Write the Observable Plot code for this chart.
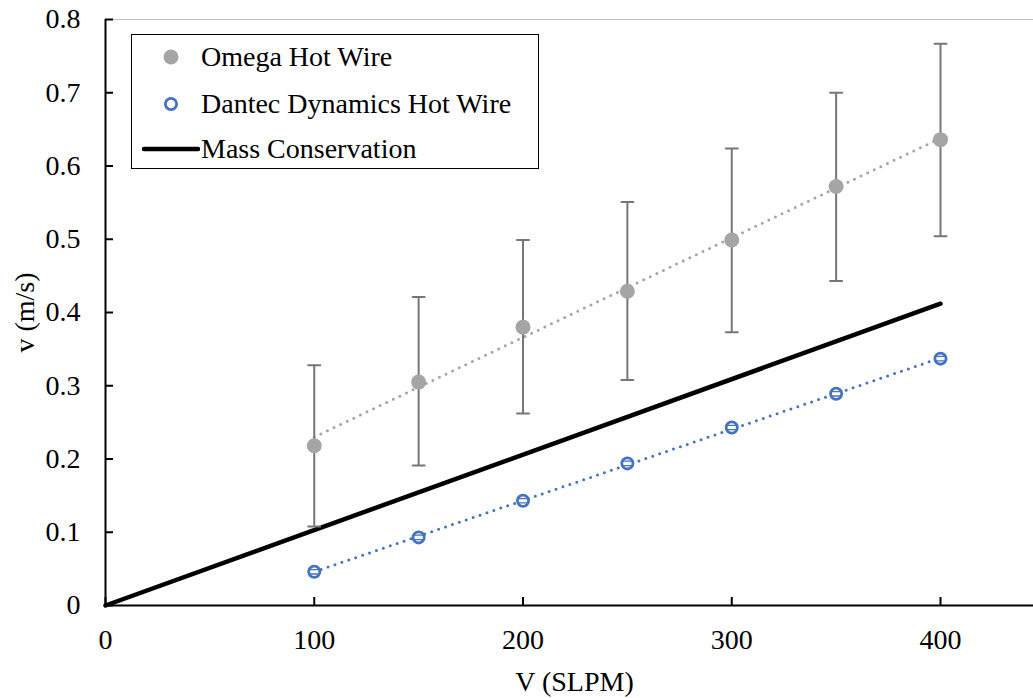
<!DOCTYPE html>
<html>
<head>
<meta charset="utf-8">
<script src="https://cdn.jsdelivr.net/npm/d3@7"></script>
<script src="https://cdn.jsdelivr.net/npm/@observablehq/plot@0.6"></script>
<style>
  html, body { margin: 0; padding: 0; background: #fff; }
  #wrap { position: relative; width: 1033px; height: 698px; font-family: "Liberation Serif", Tinos, "Times New Roman", Times, "Nimbus Roman", "DejaVu Serif", "Noto Serif", serif; }
  #legend { position: absolute; left: 131px; top: 34px; width: 406px; height: 133px; border: 1.5px solid #000; background: #fff; }
  .item { position: absolute; left: 0; height: 40px; width: 406px; }
  .item svg { position: absolute; left: 8px; top: 0; }
  .item span { position: absolute; left: 69px; top: 0; line-height: 40px; font-size: 28px; color: #000; white-space: nowrap; }
  svg text { font-family: "Liberation Serif", Tinos, "Times New Roman", Times, "Nimbus Roman", "DejaVu Serif", "Noto Serif", serif; }
</style>
</head>
<body>
<div id="wrap"><div id="legend"></div></div>
<script>
// ---- data ----
const flow = [100, 150, 200, 250, 300, 350, 400];              // V (SLPM)
const omegaV = [0.218, 0.305, 0.380, 0.429, 0.499, 0.572, 0.636];
const omegaLo = [0.108, 0.191, 0.262, 0.308, 0.373, 0.443, 0.504];
const omegaHi = [0.328, 0.421, 0.499, 0.551, 0.624, 0.700, 0.767];
const dantecV = [0.046, 0.093, 0.143, 0.194, 0.243, 0.289, 0.337];
const dantecErr = [0.003, 0.003, 0.003, 0.003, 0.003, 0.003, 0.003];
const massX = [0, 400];
const massV = [0, 0.412];
const trendX = [100, 400];
const omegaTrendV = [0.230, 0.638];
const dantecTrendV = [0.046, 0.338];
const xTicks = [0, 100, 200, 300, 400];
const yTicks = [0, 0.1, 0.2, 0.3, 0.4, 0.5, 0.6, 0.7, 0.8];
const seriesNames = ["Omega Hot Wire", "Dantec Dynamics Hot Wire", "Mass Conservation"];

// ---- tables ----
const omega = flow.map((x, i) => ({x, v: omegaV[i], lo: omegaLo[i], hi: omegaHi[i]}));
const dantec = flow.map((x, i) => ({x, v: dantecV[i], lo: dantecV[i] - dantecErr[i], hi: dantecV[i] + dantecErr[i]}));
const mass = massX.map((x, i) => ({x, v: massV[i]}));
const omegaTrend = trendX.map((x, i) => ({x, v: omegaTrendV[i]}));
const dantecTrend = trendX.map((x, i) => ({x, v: dantecTrendV[i]}));

const W = 1033, H = 698, ML = 105, MR = 0, MT = 19, MB = 93, TICK = 8;
const GRAY = "#a5a5a5", BAR = "#767676", BLUE = "#4472c4";
const FONT = "'Liberation Serif', Tinos, 'Times New Roman', Times, 'Nimbus Roman', 'DejaVu Serif', 'Noto Serif', serif";
const line = {draw(context, l) { context.moveTo(0, 0); context.lineTo(0, -l); }};

const chart = Plot.plot({
  width: W,
  height: H,
  marginLeft: ML,
  marginRight: MR,
  marginTop: MT,
  marginBottom: MB,
  style: {fontFamily: FONT, fontSize: "28px", color: "#000", background: "#fff"},
  x: {domain: [0, 444.55], axis: null},
  y: {domain: [0, 0.8], axis: null},
  marks: [
    Plot.ruleY([0.8], {stroke: "#bfbfbf", strokeWidth: 1}),
    // axes: labels
    Plot.axisX({ticks: xTicks, tickSize: 0, tickPadding: 24, label: null, tickFormat: d => String(d), fontSize: 28}),
    Plot.axisY({ticks: yTicks, tickSize: 0, tickPadding: 25, label: null, tickFormat: d => d === 0 ? "0" : d3.format(".1f")(d), fontSize: 28}),
    // axes: inward tick marks (short rules via insets)
    Plot.ruleX(xTicks, {x: d => d, insetTop: (H - MT - MB) - TICK, stroke: "#000", strokeWidth: 2}),
    Plot.ruleY(yTicks, {y: d => d, insetRight: (W - ML - MR) - TICK, stroke: "#000", strokeWidth: 2}),
    Plot.ruleY([0], {stroke: "#000", strokeWidth: 2}),
    Plot.ruleX([0], {y1: 0, y2: 0.8, stroke: "#000", strokeWidth: 2}),
    Plot.text(["V (SLPM)"], {frameAnchor: "bottom", dx: 5, dy: 77, lineAnchor: "middle", fontSize: 28}),
    Plot.text(["v (m/s)"], {frameAnchor: "left", dx: -80, rotate: -90, lineAnchor: "middle", textAnchor: "middle", fontSize: 28}),
    // trend lines
    Plot.line(omegaTrend, {x: "x", y: "v", stroke: GRAY, strokeWidth: 3, strokeDasharray: "0 7.3", strokeLinecap: "round"}),
    Plot.line(dantecTrend, {x: "x", y: "v", stroke: BLUE, strokeWidth: 3, strokeDasharray: "0 7.3", strokeLinecap: "round"}),
    // mass conservation
    Plot.line(mass, {x: "x", y: "v", stroke: "#000", strokeWidth: 4.5, strokeLinecap: "round"}),
    // omega error bars + points
    Plot.ruleX(omega, {x: "x", y1: "lo", y2: "hi", stroke: BAR, strokeWidth: 2}),
    Plot.vector(omega, {x: "x", y: "hi", length: 12, rotate: 90, anchor: "middle", shape: line, stroke: BAR, strokeWidth: 2}),
    Plot.vector(omega, {x: "x", y: "lo", length: 12, rotate: 90, anchor: "middle", shape: line, stroke: BAR, strokeWidth: 2}),
    Plot.dot(omega, {x: "x", y: "v", r: 7.5, fill: GRAY, stroke: "none"}),
    // dantec points + tiny error bars
    Plot.dot(dantec, {x: "x", y: "v", r: 5.6, fill: "#fff", stroke: BLUE, strokeWidth: 2.8}),
    Plot.vector(dantec, {x: "x", y: "hi", length: 9, rotate: 90, anchor: "middle", shape: line, stroke: BLUE, strokeWidth: 1.3}),
    Plot.vector(dantec, {x: "x", y: "lo", length: 9, rotate: 90, anchor: "middle", shape: line, stroke: BLUE, strokeWidth: 1.3})
  ]
});

const wrap = document.getElementById("wrap");
wrap.insertBefore(chart, wrap.firstChild);

// legend
const legend = document.getElementById("legend");
const rowTops = [2, 49, 94];
const swatches = [
  `<svg width="60" height="40"><circle cx="31" cy="20" r="7.5" fill="${GRAY}"/></svg>`,
  `<svg width="60" height="40"><circle cx="31" cy="20" r="5.6" fill="#fff" stroke="${BLUE}" stroke-width="2.8"/></svg>`,
  `<svg width="60" height="40"><line x1="4" y1="20" x2="58" y2="20" stroke="#000" stroke-width="4.5" stroke-linecap="round"/></svg>`
];
seriesNames.forEach((name, i) => {
  const div = document.createElement("div");
  div.className = "item";
  div.style.top = rowTops[i] + "px";
  div.innerHTML = swatches[i] + `<span>${name}</span>`;
  legend.appendChild(div);
});
</script>
</body>
</html>
